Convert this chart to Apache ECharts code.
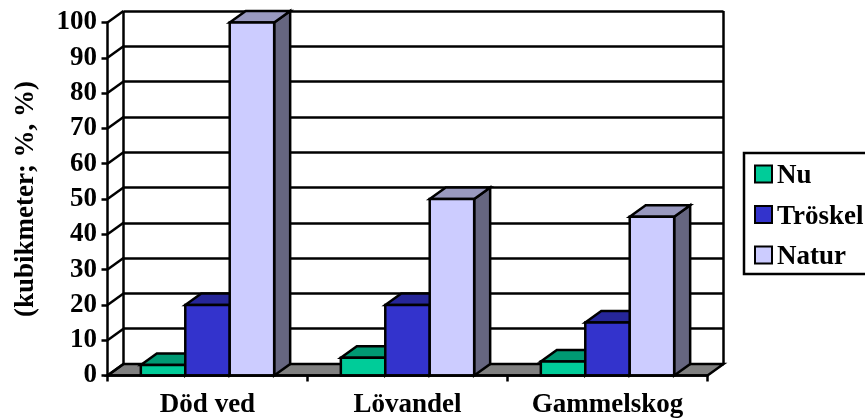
<!DOCTYPE html>
<html>
<head>
<meta charset="utf-8">
<style>html,body{margin:0;padding:0;background:#fff}#c{width:865px;height:419px}</style>
<script src="https://cdn.jsdelivr.net/npm/echarts@6/dist/echarts.min.js"></script>
</head>
<body>
<div id="c"></div>
<script>
const categories = ['Död ved', 'Lövandel', 'Gammelskog'];
const nu = [3, 5, 4];
const troskel = [20, 20, 15];
const natur = [100, 50, 45];
const yTicks = [0, 10, 20, 30, 40, 50, 60, 70, 80, 90, 100];
const yTitle = '(kubikmeter; %, %)';

const FONT = '"Liberation Serif", "Times New Roman", serif';
const DX = 16, DY = -11.5;         // oblique offset of the chart's depth
const LW = 2.5;

// Extruded column: front face, top face and side face
function columnRenderer(index, front, top, side) {
  return function (params, api) {
    const cat = api.value(0);
    const band = api.size([1, 0])[0];
    const w = band / 4.5;
    const base = api.coord([cat, 0]);
    const head = api.coord([cat, api.value(1)]);
    const x0 = base[0] - 1.5 * w + index * w, x1 = x0 + w;
    const yB = base[1], yT = head[1];
    const line = { stroke: '#000', lineWidth: LW, lineJoin: 'miter' };
    return {
      type: 'group',
      children: [
        { type: 'polygon', shape: { points: [[x1, yB], [x1 + DX, yB + DY], [x1 + DX, yT + DY], [x1, yT]] },
          style: Object.assign({ fill: side }, line) },
        { type: 'polygon', shape: { points: [[x0, yT], [x1, yT], [x1 + DX, yT + DY], [x0 + DX, yT + DY]] },
          style: Object.assign({ fill: top }, line) },
        { type: 'rect', shape: { x: x0, y: yT, width: w, height: yB - yT },
          style: Object.assign({ fill: front }, line) }
      ]
    };
  };
}

const barSeries = [
  { name: 'Nu', values: nu, front: '#00CC99', top: '#009973', side: '#006650' },
  { name: 'Tröskel', values: troskel, front: '#3333CC', top: '#262699', side: '#1A1A66' },
  { name: 'Natur', values: natur, front: '#CCCCFF', top: '#9999BF', side: '#666680' }
].map((s, i) => ({
  type: 'custom',
  name: s.name,
  xAxisIndex: 0,
  yAxisIndex: 0,
  z: 5,
  clip: false,
  itemStyle: { color: s.front },
  renderItem: columnRenderer(i, s.front, s.top, s.side),
  encode: { x: 0, y: 1 },
  data: s.values.map((v, k) => [k, v])
}));

// Grey floor spanning the category axis, pushed back by the depth offset
const floorSeries = {
  type: 'custom',
  xAxisIndex: 0,
  yAxisIndex: 0,
  z: 3,
  clip: false,
  silent: true,
  data: [[0, 0]],
  renderItem: function (params, api) {
    const band = api.size([1, 0])[0];
    const a = api.coord([0, 0]), l = a[0] - band / 2;
    const r = l + band * categories.length;
    return {
      type: 'polygon',
      shape: { points: [[l, a[1]], [r, a[1]], [r + DX, a[1] + DY], [l + DX, a[1] + DY]] },
      style: { fill: '#808080', stroke: '#000', lineWidth: LW }
    };
  }
};

// Diagonals joining each value tick to its gridline on the back wall
const connectorSeries = {
  type: 'custom',
  xAxisIndex: 0,
  yAxisIndex: 0,
  z: 4,
  clip: false,
  silent: true,
  data: yTicks.map(v => [0, v]),
  renderItem: function (params, api) {
    const band = api.size([1, 0])[0];
    const a = api.coord([0, api.value(1)]), l = a[0] - band / 2;
    return {
      type: 'line',
      shape: { x1: l, y1: a[1], x2: l + DX, y2: a[1] + DY },
      style: { stroke: '#000', lineWidth: LW }
    };
  }
};

const chart = echarts.init(document.getElementById('c'), null, { renderer: 'canvas' });
chart.setOption({
  animation: false,
  backgroundColor: '#fff',
  grid: [
    { left: 107.5, top: 22.5, width: 600, height: 353, outerBoundsMode: 'none' },
    { left: 123.5, top: 11, width: 600, height: 353, outerBoundsMode: 'none' }
  ],
  xAxis: [
    {
      type: 'category', data: categories, gridIndex: 0, z: 6,
      axisLine: { show: true, onZero: false, lineStyle: { color: '#000', width: LW } },
      axisTick: { show: true, alignWithLabel: false, length: 6, lineStyle: { color: '#000', width: LW } },
      axisLabel: { color: '#000', fontFamily: FONT, fontWeight: 'bold', fontSize: 27, margin: 16, interval: 0 }
    },
    {
      type: 'value', gridIndex: 1, min: 0, max: 1, interval: 1,
      axisLine: { show: false }, axisTick: { show: false }, axisLabel: { show: false },
      splitLine: { show: true, lineStyle: { color: '#000', width: LW } }
    }
  ],
  yAxis: [
    {
      type: 'value', gridIndex: 0, min: 0, max: 100, interval: 10, z: 6,
      name: yTitle, nameLocation: 'middle', nameRotate: 90, nameGap: 68,
      nameTextStyle: { color: '#000', fontFamily: FONT, fontWeight: 'bold', fontSize: 27 },
      axisLine: { show: true, lineStyle: { color: '#000', width: LW } },
      axisTick: { show: true, length: 6, lineStyle: { color: '#000', width: LW } },
      axisLabel: { color: '#000', fontFamily: FONT, fontWeight: 'bold', fontSize: 27, margin: 10.5 },
      splitLine: { show: false }
    },
    {
      type: 'value', gridIndex: 1, min: 0, max: 100, interval: 10,
      axisLine: { show: false }, axisTick: { show: false }, axisLabel: { show: false },
      splitLine: { show: true, lineStyle: { color: '#000', width: LW } }
    }
  ],
  legend: {
    orient: 'vertical', left: 754, top: 163, padding: 0,
    itemWidth: 17, itemHeight: 17, itemGap: 13.5,
    icon: 'rect', selectedMode: false,
    formatter: name => '{t|' + name + '}',
    textStyle: {
      color: '#000', fontFamily: FONT, fontWeight: 'bold', fontSize: 27,
      rich: { t: { color: '#000', fontFamily: FONT, fontWeight: 'bold', fontSize: 27, padding: [5, 0, 0, 0] } }
    },
    data: barSeries.map(s => ({
      name: s.name,
      itemStyle: { color: s.itemStyle.color, borderColor: '#000', borderWidth: 2 }
    }))
  },
  graphic: [{
    type: 'rect', z: -1, silent: true,
    shape: { x: 744, y: 153, width: 125, height: 121 },
    style: { fill: '#fff', stroke: '#000', lineWidth: 2.5 }
  }],
  series: [floorSeries, connectorSeries].concat(barSeries)
});
</script>
</body>
</html>
